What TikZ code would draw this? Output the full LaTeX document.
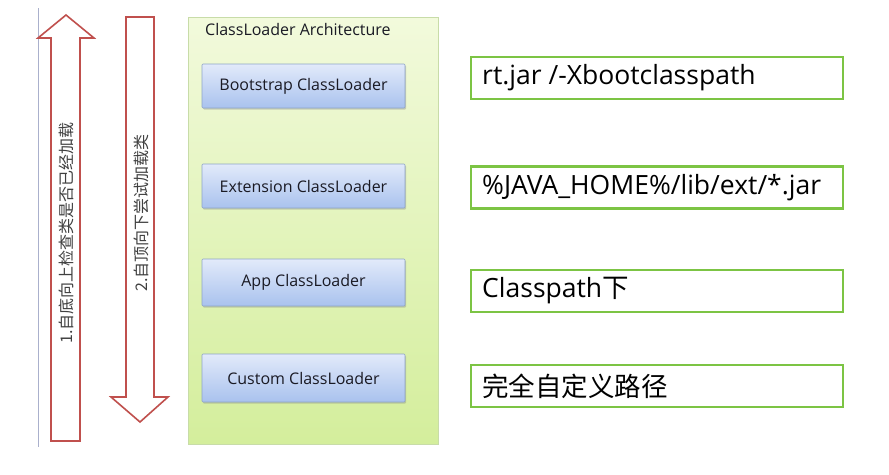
\documentclass[tikz,border=0pt]{standalone}
\usepackage{fontspec}
\setmainfont{Open Sans}
\newfontfamily\cjk{Noto Sans CJK SC}
\usetikzlibrary{shadows}
\definecolor{arrred}{HTML}{C0504D}
\definecolor{pathgreen}{HTML}{7CC444}
\definecolor{archtop}{HTML}{F2FADC}
\definecolor{archbot}{HTML}{D4EE9C}
\definecolor{archedge}{HTML}{C8DCA8}
\definecolor{cltop}{HTML}{E2EAFA}
\definecolor{clbot}{HTML}{A9C2EE}
\definecolor{cledge}{HTML}{8EA4C8}
\definecolor{txtdark}{HTML}{1A1A24}
\tikzset{
  archbox/.style={draw=archedge, line width=0.8pt, top color=archtop, bottom color=archbot, minimum width=250pt, minimum height=427pt, inner sep=0pt},
  clbox/.style={draw=cledge, line width=0.6pt, top color=cltop, bottom color=clbot, minimum width=203pt, inner sep=0pt, rounded corners=1pt,
    drop shadow={shadow xshift=1pt, shadow yshift=-1.5pt, opacity=0.35}, font=\fontsize{16}{18}\selectfont, text=txtdark},
  pathbox/.style={draw=pathgreen, line width=2.6pt, fill=white, minimum width=372pt, minimum height=42pt, inner sep=0pt},
  pathtext/.style={anchor=west, font=\fontsize{26.5}{30}\selectfont, text=black, inner sep=0pt},
  bigarrow/.style={draw=arrred, line width=1.6pt, fill=white, line join=miter},
  arrtext/.style={rotate=90, font=\cjk\fontsize{16}{18}\selectfont, text=black!75}
}
\begin{document}
\begin{tikzpicture}[x=1pt,y=-1pt]
\useasboundingbox (0,0) rectangle (889,474);
\fill[white] (0,0) rectangle (889,474);
% thin left line
\draw[color={rgb,255:red,170;green,176;blue,204}, line width=0.8pt] (38,8) -- (38,447);
% up arrow
\draw[bigarrow] (66,15) -- (94,38) -- (80,38) -- (80,441) -- (51,441) -- (51,38) -- (38,38) -- cycle;
\node[arrtext] (uptext) at (66,233) {1.自底向上检查类是否已经加载};
% down arrow
\draw[bigarrow] (126,17) -- (154,17) -- (154,397) -- (168,397) -- (140,422) -- (111,397) -- (126,397) -- cycle;
\node[arrtext] (downtext) at (141,213) {2.自顶向下尝试加载类};
% architecture box
\node[archbox] (arch) at (313,230.5) {};
\node[font=\fontsize{16}{18}\selectfont, text=txtdark, inner sep=0pt, anchor=west] (title) at (205,29) {ClassLoader Architecture};
\node[clbox, minimum height=44pt] (boot) at (303.5,86) {Bootstrap ClassLoader};
\node[clbox, minimum height=44pt] (ext) at (303.5,186) {Extension ClassLoader};
\node[clbox, minimum height=47pt] (app) at (303.5,282.5) {App ClassLoader};
\node[clbox, minimum height=48pt] (cust) at (303.5,378) {Custom ClassLoader};
% path boxes
\node[pathbox] (p1) at (657,78) {};
\node[pathbox] (p2) at (657,187.5) {};
\node[pathbox] (p3) at (657,291) {};
\node[pathbox] (p4) at (657,386) {};
\node[pathtext] (t1) at (482,78) {rt.jar /-Xbootclasspath};
\node[pathtext] (t2) at (482,187.5) {\%JAVA\_HOME\%/lib/ext/*.jar};
\node[pathtext] (t3) at (482,291) {Classpath{\cjk 下}};
\node[pathtext] (t4) at (482,386) {\cjk 完全自定义路径};
\end{tikzpicture}
\end{document}
